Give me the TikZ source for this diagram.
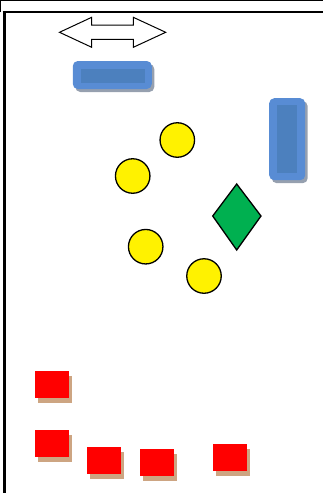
\documentclass[tikz,border=0pt]{standalone}
\usetikzlibrary{shadows}
\definecolor{blueout}{RGB}{88,140,212}
\definecolor{bluein}{RGB}{76,128,190}
\definecolor{greyshadow}{RGB}{150,160,175}
\definecolor{tanshadow}{RGB}{205,165,130}
\definecolor{dgreen}{RGB}{0,176,80}
\tikzset{
  redbox/.style={rectangle, fill=red, draw=none, minimum width=34pt, minimum height=27pt, inner sep=0pt,
    drop shadow={shadow xshift=3pt, shadow yshift=-5pt, fill=tanshadow, opacity=1}},
  ball/.style={circle, fill=yellow, draw=black, line width=1.3pt, minimum size=34.5pt, inner sep=0pt},
  barout/.style={rectangle, rounded corners=5pt, fill=blueout, draw=none, inner sep=0pt,
    drop shadow={shadow xshift=2.5pt, shadow yshift=-3pt, fill=greyshadow, opacity=1}},
  barin/.style={rectangle, fill=bluein, draw=none, inner sep=0pt},
}
\begin{document}
\begin{tikzpicture}[x=1pt,y=-1pt]
\useasboundingbox (0,0) rectangle (323,493);
% frame
\draw[line width=0.9pt] (0.5,12) -- (0.5,0.8) -- (323,0.8);
\draw[line width=2pt] (2.5,12) -- (323,12);
\draw[line width=3pt] (4,493) -- (4,11);
% double arrow
\draw[line width=1pt, fill=white] (59.5,32.3) -- (91.7,17.3) -- (91.7,25.2) -- (133.3,25.2) -- (133.3,17.3)
  -- (165.7,32.3) -- (133.3,47.3) -- (133.3,39.4) -- (91.7,39.4) -- (91.7,47.3) -- cycle;
% blue bars
\node[barout, minimum width=79pt, minimum height=28pt] (barh) at (112.3,75) {};
\node[barin, minimum width=64pt, minimum height=14pt] (barhi) at (112.8,75.8) {};
\node[barout, minimum width=36pt, minimum height=82pt] (barv) at (287.2,139.2) {};
\node[barin, minimum width=20pt, minimum height=68pt] (barvi) at (287.3,139.2) {};
% balls
\node[ball] (b1) at (177.3,140) {};
\node[ball] (b2) at (132.7,176) {};
\node[ball] (b3) at (145.7,246.7) {};
\node[ball] (b4) at (204,276) {};
% diamond
\draw[fill=dgreen, line width=1.3pt] (236.7,184) -- (261,216) -- (236.7,250) -- (212.7,216) -- cycle;
% red boxes
\node[redbox] (r1) at (52.3,384.7) {};
\node[redbox] (r2) at (52.3,443.7) {};
\node[redbox] (r3) at (104.3,460.5) {};
\node[redbox] (r4) at (157,462.7) {};
\node[redbox] (r5) at (230,457.8) {};
\end{tikzpicture}
\end{document}
